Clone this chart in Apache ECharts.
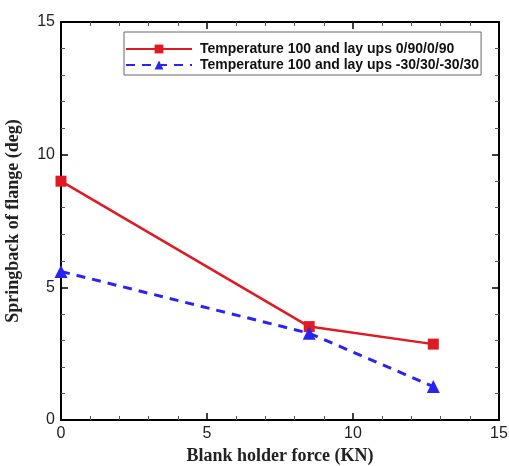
<!DOCTYPE html>
<html><head><meta charset="utf-8">
<script src="https://cdn.jsdelivr.net/npm/echarts@6/dist/echarts.min.js"></script>
<style>html,body{margin:0;padding:0;background:#fff}#c{width:509px;height:466px}</style>
</head><body><div id="c"></div>
<script>
const forceKN = [0, 8.5, 12.75];
const series1Name = 'Temperature 100 and lay ups 0/90/0/90';
const series1 = [9.0, 3.52, 2.86];
const series2Name = 'Temperature 100 and lay ups -30/30/-30/30';
const series2 = [5.6, 3.27, 1.26];
const xTicks = [0, 5, 10, 15];
const yTicks = [0, 5, 10, 15];

const chart = echarts.init(document.getElementById('c'));
const tickLabel = {color:'#222', fontFamily:'Liberation Sans, Arial', fontSize:16};
const axisCommon = {
  min:0, max:15, interval:5,
  axisLine:{show:true, onZero:false, lineStyle:{color:'#000', width:2}},
  axisTick:{show:true, inside:true, length:7, lineStyle:{color:'#000', width:1.5}},
  minorTick:{show:true, splitNumber:5, length:4, lineStyle:{color:'#555', width:1}},
  splitLine:{show:false}
};
const titleStyle = {fontFamily:'Liberation Serif, Times New Roman', fontWeight:'bold', fontSize:18, color:'#222'};
chart.setOption({
  animation:false,
  backgroundColor:'#fff',
  grid:{left:61, right:10, top:22, bottom:46, show:false, containLabel:false, outerBoundsMode:'none'},
  legend:{
    left:124, top:32, orient:'vertical',
    itemWidth:66, itemHeight:11, itemGap:2,
    padding:[10,2,3,1],
    borderColor:'#666', borderWidth:1,
    textStyle:{fontFamily:'Liberation Sans, Arial', fontWeight:'bold', fontSize:14, color:'#111', padding:[0,0,0,3]},
    data:[series1Name, series2Name]
  },
  xAxis:[Object.assign({type:'value', position:'bottom',
    name:'Blank holder force (KN)', nameLocation:'middle', nameGap:23,
    nameTextStyle:titleStyle,
    axisLabel:Object.assign({margin:6, formatter:v=>xTicks.includes(v)?String(v):''}, tickLabel)}, axisCommon),
    Object.assign({type:'value', position:'top', axisLabel:{show:false}}, axisCommon)],
  yAxis:[Object.assign({type:'value', position:'left',
    name:'Springback of flange (deg)', nameLocation:'middle', nameGap:39,
    nameTextStyle:titleStyle,
    axisLabel:Object.assign({margin:6, formatter:v=>yTicks.includes(v)?String(v):''}, tickLabel)}, axisCommon),
    Object.assign({type:'value', position:'right', axisLabel:{show:false}}, axisCommon)],
  series:[
    {name:series1Name, type:'line', xAxisIndex:0, yAxisIndex:0,
     data:forceKN.map((x,i)=>[x, series1[i]]),
     symbol:'rect', symbolSize:11, color:'#e01a22',
     lineStyle:{width:2.5, color:'#e01a22'}, itemStyle:{color:'#e01a22'}},
    {name:series2Name, type:'line', xAxisIndex:0, yAxisIndex:0,
     data:forceKN.map((x,i)=>[x, series2[i]]),
     symbol:'triangle', symbolSize:13, color:'#2a24f2',
     lineStyle:{width:3, type:[9,7], color:'#2a24f2'}, itemStyle:{color:'#2a24f2'}}
  ]
});
</script></body></html>
